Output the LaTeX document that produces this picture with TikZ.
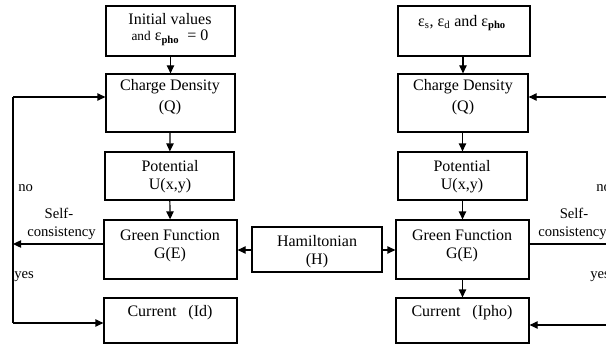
\documentclass[tikz,border=0pt]{standalone}
\usepackage{fontspec}
\setmainfont{Liberation Serif}
\usetikzlibrary{arrows.meta}
\begin{document}
\begin{tikzpicture}[x=0.75pt,y=-0.75pt,
  box/.style={draw,line width=0.9pt,inner sep=0pt},
  txt/.style={inner sep=0pt,font=\fontsize{12}{14}\selectfont},
  lbl/.style={inner sep=0pt,font=\fontsize{11}{13}\selectfont},
  arr/.style={line width=0.9pt,-{Triangle[length=6pt,width=5.5pt]}},
  ln/.style={line width=0.9pt}]
\useasboundingbox (0,0) rectangle (606,346);
\newcommand{\bx}[5]{\node[box,minimum width={(#4-#2)*0.75pt},minimum height={(#5-#3)*0.75pt}] (#1) at ({(#2+#4)/2},{(#3+#5)/2}) {};}
\bx{init}{106}{6}{235}{56}
\bx{cdL}{106}{74}{235}{132}
\bx{potL}{105}{152}{234}{200}
\bx{grL}{104}{220}{237}{279}
\bx{curL}{104}{298}{237}{343}
\bx{ham}{252}{227}{382}{272}
\bx{eps}{398}{6}{530}{56}
\bx{cdR}{398}{74}{528}{132}
\bx{potR}{398}{152}{527}{200}
\bx{grR}{396}{220}{529}{279}
\bx{curR}{396}{298}{529}{343}
% texts
\node[txt] (t1) at (170,19) {Initial values};
\node[txt] (t2) at (170,38) {{\fontsize{10}{12}\selectfont and} ε\textsubscript{\textbf{pho}}~~= 0};
\node[txt] (t3) at (170,87) {Charge Density};
\node[txt] (t4) at (170,108) {(Q)};
\node[txt] (t5) at (170,166) {Potential};
\node[txt] (t6) at (170,186) {U(x,y)};
\node[txt] (t7) at (170,235) {Green Function};
\node[txt] (t8) at (170,255) {G(E)};
\node[txt] (t9) at (170,313) {Current~~~(Id)};
\node[txt] (t10) at (317,241) {Hamiltonian};
\node[txt] (t11) at (317,261) {(H)};
\node[txt] (t12) at (462,23) {ε\textsubscript{s}, ε\textsubscript{d} and ε\textsubscript{\textbf{pho}}};
\node[txt] (t13) at (463,87) {Charge Density};
\node[txt] (t14) at (463,108) {(Q)};
\node[txt] (t15) at (462,166) {Potential};
\node[txt] (t16) at (462,186) {U(x,y)};
\node[txt] (t17) at (462,235) {Green Function};
\node[txt] (t18) at (462,255) {G(E)};
\node[txt] (t19) at (462,313) {Current~~~(Ipho)};
% labels
\node[lbl,anchor=west] (no) at (18,188) {no};
\node[lbl] (s1) at (59,213) {Self-};
\node[lbl,anchor=west] (s2) at (27,233) {consistency};
\node[lbl,anchor=west] (yes) at (14,277) {yes};
\node[lbl,anchor=west] (no2) at (596,188) {no};
\node[lbl] (s3) at (574,213) {Self-};
\node[lbl,anchor=west] (s4) at (538,233) {consistency};
\node[lbl,anchor=west] (yes2) at (590,277) {yes};
% coordinates
\coordinate (lt) at (13,97);
\coordinate (lm) at (13,244);
\coordinate (lb) at (13,323);
\coordinate (rt) at (607,97);
\coordinate (rm) at (607,244);
\coordinate (rb) at (607,325);
% arrows
\draw[arr] (init) -- (cdL);
\draw[arr] (cdL) -- (potL);
\draw[arr] (potL) -- (grL);
\draw[arr] (eps.south -| cdR) -- (cdR);
\draw[arr] (cdR.south -| potR) -- (potR);
\draw[arr] (potR.south -| grR) -- (grR);
\draw[arr] (grR) -- (curR);
\draw[arr] (ham.west |- 0,250) -- (grL.east |- 0,250);
\draw[arr] (ham.east |- 0,250) -- (grR.west |- 0,250);
\draw[arr] (grL.west |- lm) -- (lm);
\draw[ln] (lt) -- (lb);
\draw[arr] (lt) -- (cdL.west |- lt);
\draw[arr] (lb) -- (curL.west |- lb);
\draw[arr] (rt) -- (cdR.east |- rt);
\draw[ln] (grR.east |- rm) -- (rm);
\draw[arr] (rb) -- (curR.east |- rb);
\end{tikzpicture}
\end{document}
